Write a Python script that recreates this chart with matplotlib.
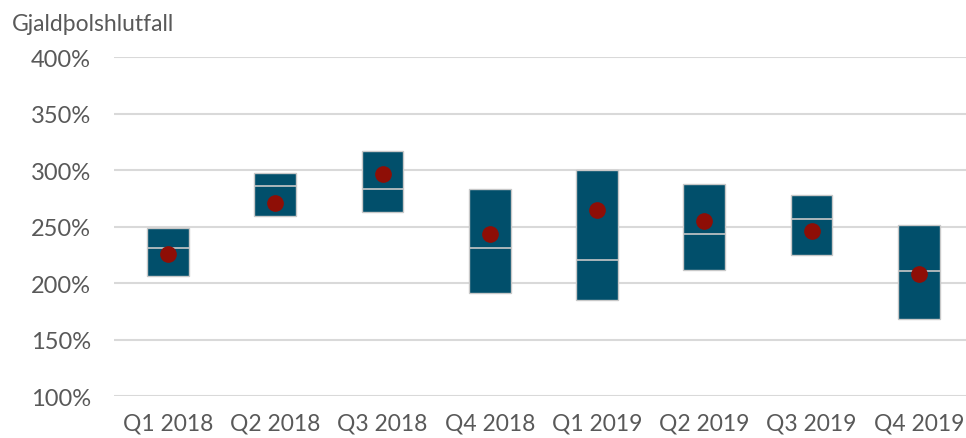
import matplotlib.pyplot as plt

plt.rcParams['font.family'] = ['Lato', 'DejaVu Sans']

quarters = ["Q1 2018", "Q2 2018", "Q3 2018", "Q4 2018",
            "Q1 2019", "Q2 2019", "Q3 2019", "Q4 2019"]
low = [206.5, 259.3, 262.8, 191.0, 185.2, 211.8, 225.3, 168.4]
high = [249.1, 297.9, 317.0, 283.5, 300.0, 287.6, 277.9, 251.9]
median = [231.0, 286.1, 283.2, 231.2, 220.9, 243.9, 256.9, 211.2]
mean = [225.6, 271.3, 296.7, 243.6, 265.1, 254.9, 246.0, 208.5]
yticks = [100, 150, 200, 250, 300, 350, 400]

text_col = "#595959"
box_col = "#014f6b"
edge_col = "#c8c8c8"
dot_col = "#8e0e06"

fig = plt.figure(figsize=(9.66, 4.39), dpi=100)
ax = fig.add_axes([0.1185, 0.095, 0.8815, 0.772])

x = list(range(len(quarters)))
heights = [h - l for h, l in zip(high, low)]
ax.bar(x, heights, bottom=low, width=0.39, color=box_col,
       edgecolor=edge_col, linewidth=1.0, zorder=3)
ax.hlines(median, [i - 0.195 for i in x], [i + 0.195 for i in x],
          color=edge_col, linewidth=1.2, zorder=4)
ax.plot(x, mean, 'o', color=dot_col, markersize=11, zorder=5)

ax.set_xlim(-0.5, 7.44)
ax.set_ylim(100, 400)
ax.set_yticks(yticks)
ax.set_yticklabels([str(v) + "%" for v in yticks])
ax.set_xticks(x)
ax.set_xticklabels(quarters)
ax.grid(axis='y', color="#d9d9d9", linewidth=1.5, zorder=0)
ax.set_axisbelow(True)
for s in ax.spines.values():
    s.set_visible(False)
ax.tick_params(axis='y', length=0, pad=17, labelsize=17, labelcolor=text_col)
ax.tick_params(axis='x', length=0, pad=12, labelsize=16.5, labelcolor=text_col)

fig.text(0.012, 0.945, "Gjaldþolshlutfall", fontsize=16.5, color=text_col,
         ha='left', va='center')

fig.savefig("out.png", dpi=100)
